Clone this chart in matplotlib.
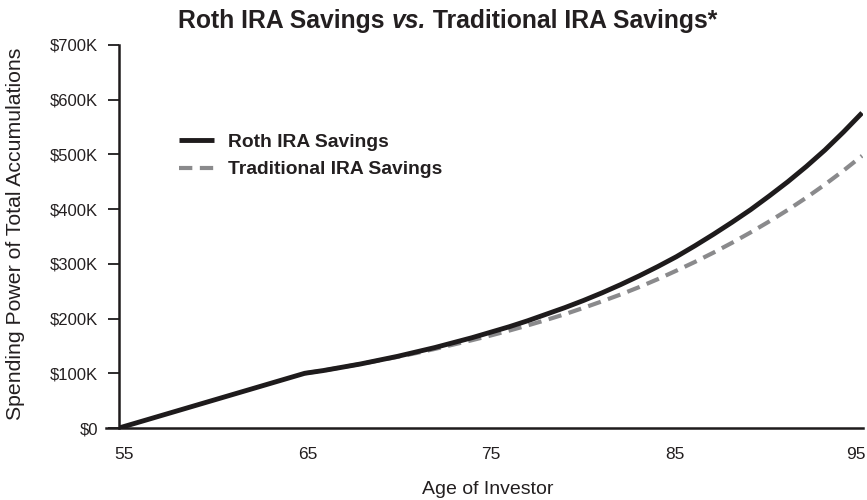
import matplotlib
matplotlib.use("Agg")
import matplotlib.pyplot as plt
from matplotlib.transforms import ScaledTranslation

# Ages shown on the x axis
ages_contrib = [55, 65]
ages_growth = list(range(65, 96))

# Spending power of total accumulations (dollars)
roth_contrib = [0, 100000]
roth_growth = [100000, 105000, 111000, 117000, 124000, 131000, 139000, 147000,
               156000, 165000, 175000, 185000, 196000, 208000, 220000, 233000,
               247000, 262000, 278000, 295000, 313000, 333000, 354000, 376000,
               399000, 424000, 450000, 478000, 508000, 541000, 576000]
trad_growth = [100000, 105000, 111000, 117000, 123500, 130000, 137000, 144500,
               152500, 160500, 169000, 178000, 187500, 197500, 208000, 219500,
               231500, 244000, 257500, 272000, 287500, 303500, 320500, 338500,
               357500, 377500, 398500, 421000, 445000, 470500, 497500]

x_ticks = [55, 65, 75, 85, 95]
y_ticks = [0, 100000, 200000, 300000, 400000, 500000, 600000, 700000]
y_labels = ["$0", "$100K", "$200K", "$300K", "$400K", "$500K", "$600K", "$700K"]

title_parts = [("Roth IRA Savings ", "normal"), ("vs.", "italic"),
               (" Traditional IRA Savings*", "normal")]
x_label = "Age of Investor"
y_label = "Spending Power of Total Accumulations"
legend_labels = ["Roth IRA Savings", "Traditional IRA Savings"]

plt.rcParams["font.family"] = ["Liberation Sans", "DejaVu Sans"]
TXT = "#231f20"
BLACK = "#1e1b1c"
GREY = "#8a8a8c"

W, H = 867, 500
fig = plt.figure(figsize=(W / 100, H / 100), dpi=100)
ax = fig.add_axes([119 / W, 72 / H, (863 - 119) / W, 383 / H])

ax.plot(ages_contrib + ages_growth[1:], roth_contrib + roth_growth[1:],
        color=BLACK, lw=3.5, solid_capstyle="butt", solid_joinstyle="round",
        zorder=3, label=legend_labels[0])
ax.plot(ages_growth, trad_growth, color=GREY, lw=3.0, dashes=(3.2, 1.8),
        dash_capstyle="butt", zorder=2, label=legend_labels[1])

ax.set_xlim(55, 95.05)
ax.set_ylim(0, 700000)

for s in ("top", "right", "bottom"):
    ax.spines[s].set_visible(False)
ax.spines["left"].set_linewidth(1.8)
ax.spines["left"].set_color(BLACK)
ax.axhline(0, xmin=-0.018, xmax=1.0, color=BLACK, lw=1.8, clip_on=False, zorder=4)

ax.set_yticks(y_ticks)
ax.set_yticklabels(y_labels)
ax.tick_params(axis="y", length=8, width=1.3, color=BLACK, pad=7,
               labelsize=12, labelcolor=TXT)
ax.set_xticks(x_ticks)
ax.set_xticklabels([str(v) for v in x_ticks])
ax.tick_params(axis="x", length=0, pad=14, labelsize=12.5, labelcolor=TXT)
# small horizontal nudges so the age labels sit clear of the edges
nudges = [5, 3, 0, -1, -6]
for lab, dx in zip(ax.get_xticklabels(), nudges):
    lab.set_transform(lab.get_transform() + ScaledTranslation(dx / 100, 0, fig.dpi_scale_trans))

fig.text(488 / W, 1 - 489 / H, x_label, ha="center", va="center",
         fontsize=14, color=TXT)
fig.text(16 / W, 1 - 234 / H, y_label, ha="center", va="center",
         rotation=90, fontsize=15.3, color=TXT)

leg = ax.legend(loc="upper left", bbox_to_anchor=(179 / W, 1 - 133 / H),
                bbox_transform=fig.transFigure, frameon=False,
                prop={"weight": "bold", "size": 13.9}, handlelength=1.8,
                handletextpad=0.75, labelspacing=0.54, borderpad=0,
                borderaxespad=0)
for t in leg.get_texts():
    t.set_color(TXT)

# Title assembled piece by piece so "vs." can be set in italic
fig.canvas.draw()
renderer = fig.canvas.get_renderer()
pieces = []
for txt, style in title_parts:
    pieces.append(fig.text(0, 1 - 21 / H, txt, fontsize=17.8, fontweight="bold",
                           fontstyle=style, color=TXT, va="center", ha="left"))
widths = [p.get_window_extent(renderer).width for p in pieces]
x0 = 448 - sum(widths) / 2
for p, w in zip(pieces, widths):
    p.set_x(x0 / W)
    x0 += w

fig.savefig("out.png", dpi=100)
